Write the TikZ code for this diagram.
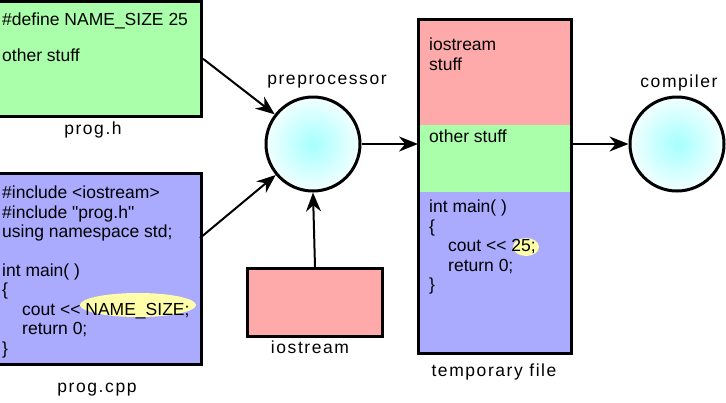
\documentclass[tikz,border=0pt]{standalone}
\usepackage{fontspec}
\setmainfont{Liberation Sans}
\newfontfamily\codefont{Liberation Sans}[Ligatures=TeXOff]
\usetikzlibrary{positioning,arrows.meta}
\definecolor{boxgreen}{HTML}{AAFFAA}
\definecolor{boxblue}{HTML}{AAAAFF}
\definecolor{boxred}{HTML}{FFAAAA}
\definecolor{hilite}{HTML}{FFFFAA}
\tikzset{
  srcbox/.style={draw,line width=3pt,inner sep=0pt,anchor=north west},
  part/.style={inner sep=0pt,outer sep=0pt,minimum width=153pt,line width=1pt},
  code/.style={font=\codefont\fontsize{17.5}{19.4}\selectfont,align=left,anchor=north west,inner sep=0pt},
  caption/.style={font=\fontsize{17.5}{20}\selectfont\addfontfeature{LetterSpace=9}},
  stage/.style={circle,draw,line width=3pt,minimum size=94pt,inner sep=0pt,inner color=cyan!35,outer color=cyan!5},
  flow/.style={->,line width=2pt}
}
\begin{document}
\begin{tikzpicture}[x=1pt,y=-1pt,>={Stealth[length=19pt,width=15pt]}]
\useasboundingbox[fill=white] (0,0) rectangle (726,402);
% source files
\node[srcbox,fill=boxgreen,minimum width=210pt,minimum height=115.5pt] (progh) at (-10,-0.5) {};
\node[code] (hdef) at (2,12.5) {\#define NAME\_SIZE 25\\[17pt] other stuff};
\node[caption] (hname) at (93,130) {prog.h};
\node[srcbox,fill=boxblue,minimum width=210pt,minimum height=191pt] (progcpp) at (-10,172) {};
\fill[hilite] (138,305) ellipse (58 and 12);
\node[code] (cpptext) at (2,186) {\#include {<}iostream{>}\\ \#include "prog.h"\\ using namespace std;\\ \mbox{}\\ int main( )\\ \{\\ \hspace*{20pt}cout {<}{<} NAME\_SIZE;\\ \hspace*{20pt}return 0;\\ \}};
\node[caption] (cppname) at (97,390) {prog.cpp};
% preprocessor
\node[stage] (pre) at (313,144) {};
\node[caption] (prename) at (327,82) {preprocessor};
\node[srcbox,fill=boxred,minimum width=135pt,minimum height=68pt] (ios) at (246,267) {};
\node[caption] (iosname) at (310,347) {iostream};
% temporary file
\node[part,fill=boxred,draw=boxred,minimum height=106pt,anchor=north west] (tmpred) at (418,19) {};
\node[part,fill=boxgreen,draw=boxgreen,minimum height=67pt,below=0pt of tmpred.south west,anchor=north west] (tmpgreen) {};
\node[part,fill=boxblue,draw=boxblue,minimum height=161pt,below=0pt of tmpgreen.south west,anchor=north west] (tmpblue) {};
\draw[line width=3pt] (tmpred.north west) rectangle (tmpblue.south east);
\node[code] (tmpios) at (429,38) {iostream\\ stuff};
\node[code] (tmpother) at (429,130) {other stuff};
\fill[hilite] (526,247) ellipse (13 and 9);
\node[code] (tmpmain) at (429,200) {int main( )\\ \{\\ \hspace*{19pt}cout {<}{<} 25;\\ \hspace*{19pt}return 0;\\ \}};
\node[caption] (tmpname) at (494,372) {temporary file};
% compiler
\node[stage] (comp) at (677,144) {};
\node[caption] (compname) at (679,83) {compiler};
% connectors
\coordinate (cppout) at (200,238);
\draw[flow] (progh.east) -- (pre);
\draw[flow] (cppout) -- (pre);
\draw[flow] (ios.north) -- (pre.south);
\draw[flow] (pre.east) -- (pre.east -| tmpred.west);
\draw[flow] (comp.west -| tmpred.east) -- (comp.west);
\end{tikzpicture}
\end{document}
